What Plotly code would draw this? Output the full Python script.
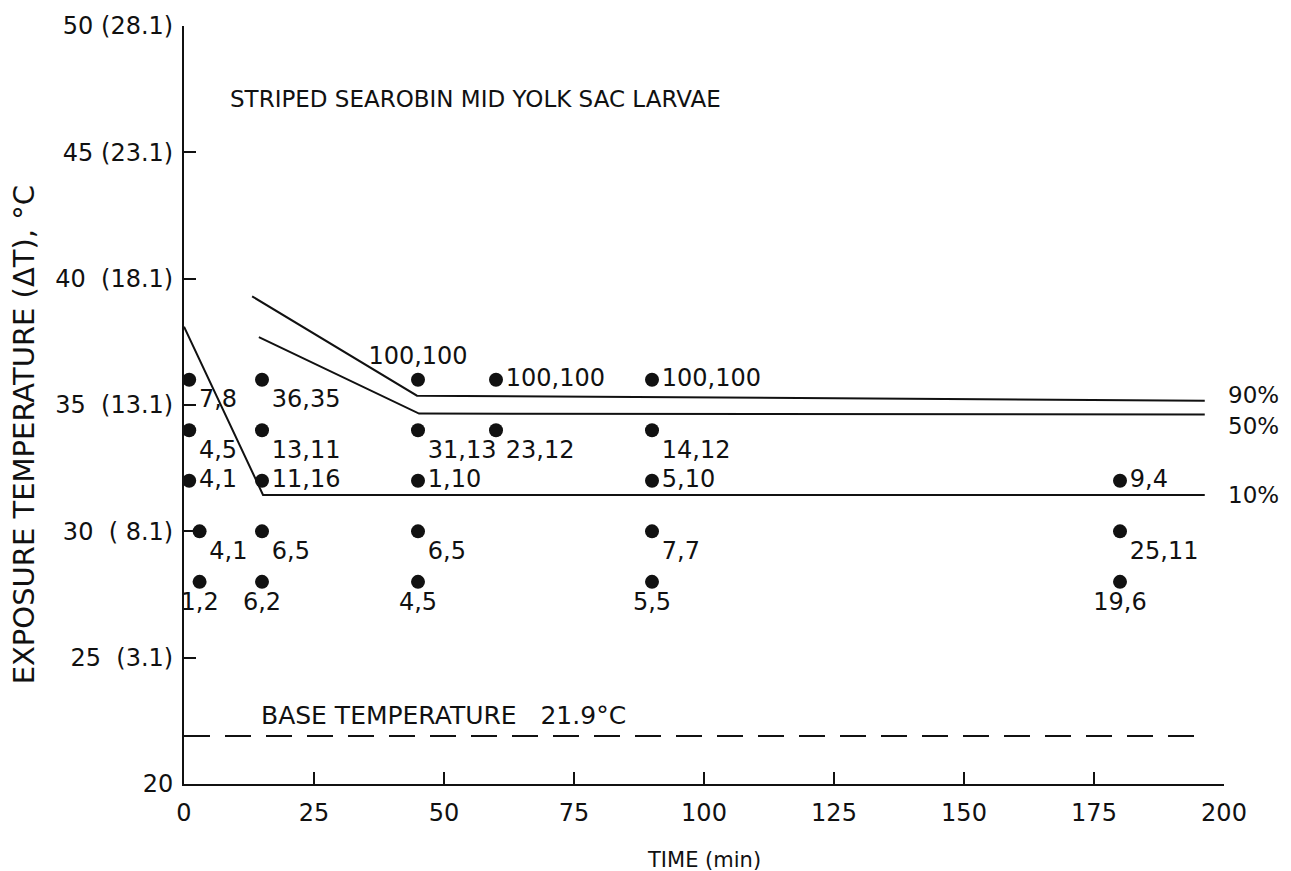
import plotly.graph_objects as go

# Exposure observations: time (min), exposure temperature (deg C), mortality pair
obs_time = [1, 1, 1, 3, 3,
            15, 15, 15, 15, 15,
            45, 45, 45, 45, 45,
            60, 60,
            90, 90, 90, 90, 90,
            180, 180, 180]
obs_temp = [36, 34, 32, 30, 28,
            36, 34, 32, 30, 28,
            36, 34, 32, 30, 28,
            36, 34,
            36, 34, 32, 30, 28,
            32, 30, 28]
obs_label = ["7,8", "4,5", "4,1", "4,1", "1,2",
             "36,35", "13,11", "11,16", "6,5", "6,2",
             "100,100", "31,13", "1,10", "6,5", "4,5",
             "100,100", "23,12",
             "100,100", "14,12", "5,10", "7,7", "5,5",
             "9,4", "25,11", "19,6"]

# Mortality response lines (time, temperature)
line90_time = [13.1, 44.8, 196.3]
line90_temp = [39.3, 35.37, 35.17]
line50_time = [14.4, 45.2, 196.3]
line50_temp = [37.69, 34.66, 34.62]
line10_time = [0, 15.2, 196.3]
line10_temp = [38.1, 31.44, 31.44]
line_names = ["90%", "50%", "10%"]

base_temp = 21.9
base_time = [0, 195]

y_ticks = [20, 25, 30, 35, 40, 45, 50]
y_ticktext = ["20", "25\u00a0 (3.1)", "30\u00a0 (\u00a08.1)", "35\u00a0 (13.1)",
              "40\u00a0 (18.1)", "45 (23.1)", "50 (28.1)"]
x_ticks = [0, 25, 50, 75, 100, 125, 150, 175, 200]

FONT = "DejaVu Sans"
INK = "#111111"

# label placement around each dot
label_pos = ["bottom right", "bottom right", "middle right", "bottom right", "bottom center",
             "bottom right", "bottom right", "middle right", "bottom right", "bottom center",
             "top center", "bottom right", "middle right", "bottom right", "bottom center",
             "middle right", "bottom right",
             "middle right", "bottom right", "middle right", "bottom right", "bottom center",
             "middle right", "bottom right", "bottom center"]

fig = go.Figure()

for t, v in [(line90_time, line90_temp), (line50_time, line50_temp), (line10_time, line10_temp)]:
    fig.add_trace(go.Scatter(x=t, y=v, mode="lines",
                             line=dict(color=INK, width=2), hoverinfo="skip"))

fig.add_trace(go.Scatter(x=base_time, y=[base_temp, base_temp], mode="lines",
                         line=dict(color=INK, width=2, dash="26px,15px"), hoverinfo="skip"))

fig.add_trace(go.Scatter(
    x=obs_time, y=obs_temp, mode="markers+text",
    marker=dict(color=INK, size=14),
    text=obs_label, textposition=label_pos,
    textfont=dict(family=FONT, size=24, color=INK),
    cliponaxis=False,
))

annots = [
    dict(x=8.5, y=47.1, text="STRIPED SEAROBIN MID YOLK SAC LARVAE", xanchor="left",
         font=dict(size=23)),
    dict(x=14.5, y=22.7, text="BASE TEMPERATURE\u00a0\u00a0 21.9\u00b0C", xanchor="left",
         font=dict(size=25)),
    dict(x=200, y=line90_temp[-1], text=line_names[0], xanchor="left", xshift=2, yshift=6,
         font=dict(size=23)),
    dict(x=200, y=line50_temp[-1], text=line_names[1], xanchor="left", xshift=2, yshift=-11,
         font=dict(size=23)),
    dict(x=200, y=line10_temp[-1], text=line_names[2], xanchor="left", xshift=2,
         font=dict(size=23)),
    dict(x=100, y=0, xref="x", yref="paper", text="TIME (min)", yshift=-62, yanchor="top",
         font=dict(size=21)),
    dict(x=0, y=33.8, xref="paper", text="EXPOSURE TEMPERATURE (\u0394T), \u00b0C",
         textangle=-90, xanchor="center", xshift=-160, font=dict(size=29)),
]
for a in annots:
    a.setdefault("xref", "x")
    a.setdefault("yref", "y")
    a["showarrow"] = False
    a["font"] = dict(family=FONT, color=INK, size=a["font"]["size"])
    fig.add_annotation(**a)

fig.update_layout(
    width=1291, height=871,
    margin=dict(l=184, r=67, t=21, b=87),
    paper_bgcolor="white", plot_bgcolor="white",
    showlegend=False,
    font=dict(family=FONT, color=INK),
)
fig.update_xaxes(
    range=[0, 200], tickvals=x_ticks, ticks="inside", ticklen=12, tickwidth=2,
    tickcolor=INK, showline=True, linecolor=INK, linewidth=2, showgrid=False,
    zeroline=False, tickfont=dict(family=FONT, size=24, color=INK), ticklabelstandoff=6,
)
fig.update_yaxes(
    range=[20, 50], tickvals=y_ticks, ticktext=y_ticktext, ticks="inside", ticklen=12,
    tickwidth=2, tickcolor=INK, showline=True, linecolor=INK, linewidth=2,
    showgrid=False, zeroline=False, tickfont=dict(family=FONT, size=24, color=INK),
    ticklabelstandoff=4,
)

fig.write_html("out.html")
